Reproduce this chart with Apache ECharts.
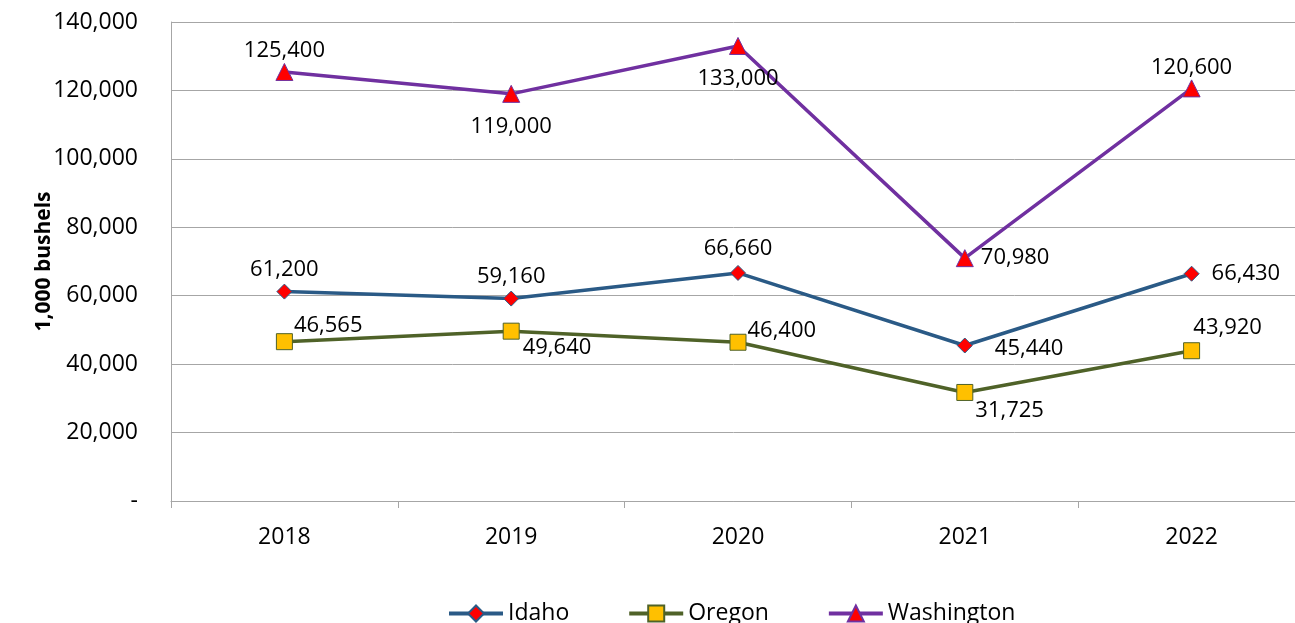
<!DOCTYPE html>
<html>
<head>
<meta charset="utf-8">
<script src="https://cdn.jsdelivr.net/npm/echarts@6/dist/echarts.min.js"></script>
<style>
  html, body { margin: 0; padding: 0; background: #fff; }
  #chart { width: 1295px; height: 623px; }
</style>
</head>
<body>
<div id="chart"></div>
<script>
// data
let years = ['2018', '2019', '2020', '2021', '2022'];
let idaho = [61200, 59160, 66660, 45440, 66430];
let oregon = [46565, 49640, 46400, 31725, 43920];
let washington = [125400, 119000, 133000, 70980, 120600];
let yTicks = [0, 20000, 40000, 60000, 80000, 100000, 120000, 140000];

// label placement per point (position, offset)
let idahoLabels = [['top', [0, 2]], ['top', [0, 2]], ['top', [0, 0]], ['right', [17, 3]], ['right', [7, 0]]];
let oregonLabels = [['right', [-4, -16]], ['right', [-2, 17]], ['right', [-4, -12]], ['right', [-3, 18]], ['top', [36, 2]]];
let washLabels = [['top', [0, 4]], ['bottom', [0, 8]], ['bottom', [0, 8]], ['right', [2, 0]], ['top', [0, 4]]];

const FONT = 'Open Sans';

function fmt(v) {
    return v.toLocaleString('en-US');
}

function points(values, labels) {
    return values.map((v, i) => ({
        value: v,
        label: { position: labels[i][0], offset: labels[i][1] },
    }));
}

function lineSeries(name, values, labels, lineColor, symbol, size, fill) {
    return {
        name: name,
        type: 'line',
        data: points(values, labels),
        symbol: symbol,
        symbolSize: size,
        showAllSymbol: true,
        lineStyle: { color: lineColor, width: 3.5 },
        itemStyle: { color: fill, borderColor: lineColor, borderWidth: 1 },
        label: {
            show: true,
            distance: 5,
            color: '#000',
            fontFamily: FONT,
            fontSize: 22,
            formatter: p => fmt(p.value),
        },
        emphasis: { disabled: true },
        z: 3,
    };
}

let chart = echarts.init(document.getElementById('chart'));
chart.setOption({
    animation: false,
    grid: { left: 171, top: 22, width: 1134, bottom: 122, outerBoundsMode: 'none' },
    legend: {
        top: 602,
        left: 447,
        padding: 0,
        itemWidth: 54,
        itemHeight: 20,
        itemGap: 58,
        lineStyle: { width: 4 },
        textStyle: { fontFamily: FONT, fontSize: 23, color: '#000' },
        data: ['Idaho', 'Oregon', 'Washington'],
    },
    xAxis: {
        type: 'category',
        data: years,
        boundaryGap: true,
        axisLine: { lineStyle: { color: '#A6A6A6', width: 1 } },
        axisTick: { show: true, length: 7, lineStyle: { color: '#A6A6A6' } },
        axisLabel: { margin: 25, color: '#000', fontFamily: FONT, fontSize: 23 },
    },
    yAxis: {
        type: 'value',
        min: yTicks[0],
        max: yTicks[yTicks.length - 1],
        interval: yTicks[1] - yTicks[0],
        name: '1,000 bushels',
        nameLocation: 'middle',
        nameGap: 116,
        nameMoveOverlap: false,
        nameTextStyle: { fontFamily: FONT, fontSize: 21, fontWeight: 'bold', color: '#000' },
        axisLine: { show: true, lineStyle: { color: '#A6A6A6', width: 1 } },
        axisTick: { show: false },
        splitLine: { show: true, lineStyle: { color: '#A6A6A6', width: 1 } },
        axisLabel: {
            margin: 33,
            color: '#000',
            fontFamily: FONT,
            fontSize: 23,
            formatter: v => (v === 0 ? '-' : fmt(v)),
        },
    },
    series: [
        lineSeries('Idaho', idaho, idahoLabels, '#2A5A86', 'diamond', 15, '#FF0000'),
        lineSeries('Oregon', oregon, oregonLabels, '#4F6228', 'rect', 16, '#FFC000'),
        lineSeries('Washington', washington, washLabels, '#7030A0', 'triangle', 17, '#FF0000'),
    ],
});
</script>
</body>
</html>
